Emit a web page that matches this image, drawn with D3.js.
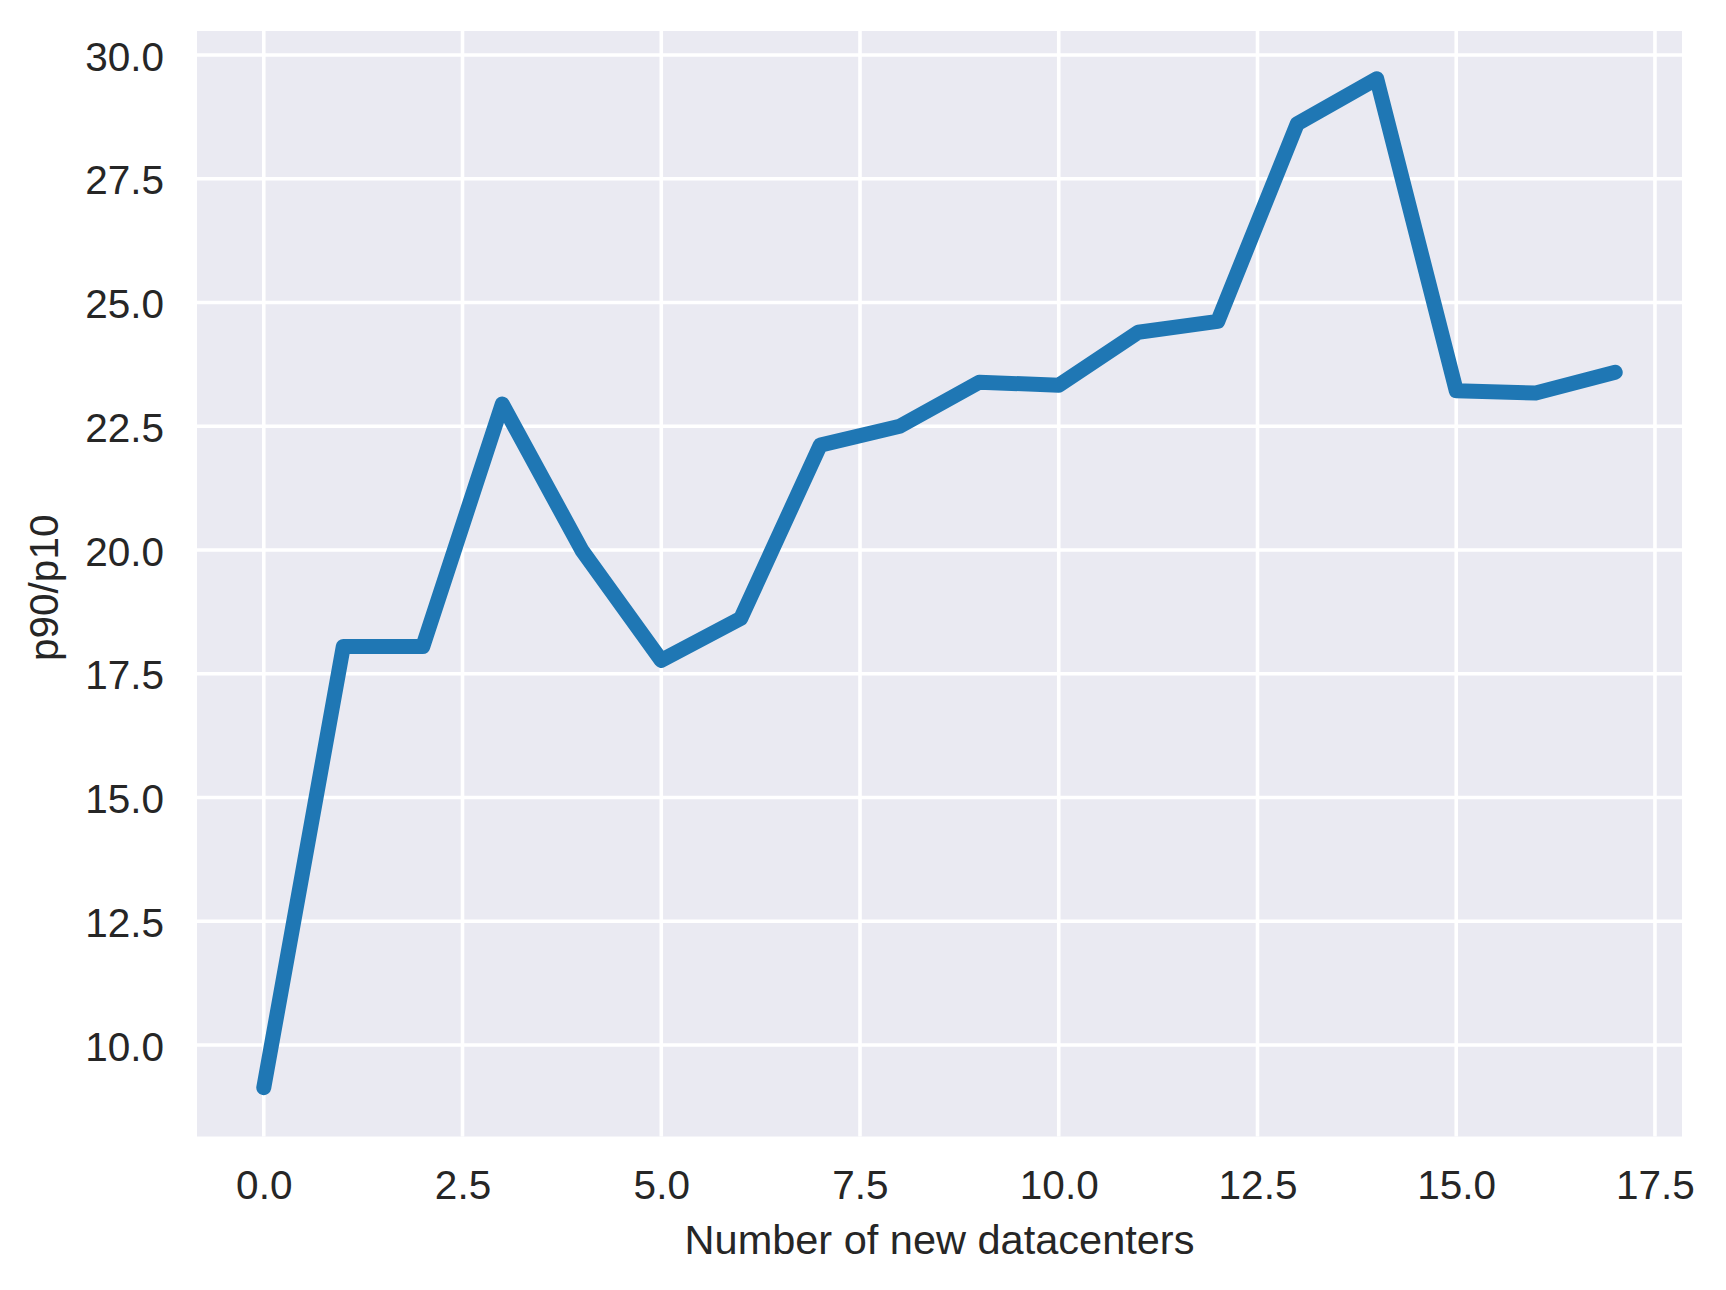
<!DOCTYPE html>
<html>
<head>
<meta charset="utf-8">
<script src="https://cdn.jsdelivr.net/npm/d3@7"></script>
<style>
  html, body { margin: 0; padding: 0; background: #ffffff; }
  svg { display: block; }
  text { font-family: "Liberation Sans", Arial, sans-serif; fill: #262626; }
</style>
</head>
<body>
<svg id="chart" width="1726" height="1290"></svg>
<script>
// ---- data ----
const xValues = [0, 1, 2, 3, 4, 5, 6, 7, 8, 9, 10, 11, 12, 13, 14, 15, 16, 17];
const yValues = [9.14, 18.05, 18.05, 22.95, 20.0, 17.77, 18.62, 22.12, 22.5, 23.39, 23.33, 24.4, 24.62, 28.61, 29.52, 23.22, 23.17, 23.59];
const xTicks = [0.0, 2.5, 5.0, 7.5, 10.0, 12.5, 15.0, 17.5];
const yTicks = [10.0, 12.5, 15.0, 17.5, 20.0, 22.5, 25.0, 27.5, 30.0];
const xLabel = "Number of new datacenters";
const yLabel = "p90/p10";

// ---- layout ----
const W = 1726, H = 1290;
const plot = { left: 197, right: 1682, top: 31, bottom: 1136.5 };

const svg = d3.select("#chart");

const x = d3.scaleLinear().domain([-0.84, 17.84]).range([plot.left, plot.right]);
const y = d3.scaleLinear().domain([8.153, 30.485]).range([plot.bottom, plot.top]);

// background
svg.append("rect")
  .attr("x", plot.left).attr("y", plot.top)
  .attr("width", plot.right - plot.left).attr("height", plot.bottom - plot.top)
  .attr("fill", "#eaeaf2");

// grid
const grid = svg.append("g");
grid.selectAll("line.v").data(xTicks).enter().append("line")
  .attr("x1", d => x(d)).attr("x2", d => x(d))
  .attr("y1", plot.top).attr("y2", plot.bottom)
  .attr("stroke", "#ffffff").attr("stroke-width", 3.6);
grid.selectAll("line.h").data(yTicks).enter().append("line")
  .attr("y1", d => y(d)).attr("y2", d => y(d))
  .attr("x1", plot.left).attr("x2", plot.right)
  .attr("stroke", "#ffffff").attr("stroke-width", 3.6);

// axes (tick labels only)
const xAxis = d3.axisBottom(x).tickValues(xTicks).tickFormat(d3.format(".1f")).tickSize(0).tickPadding(0);
const gx = svg.append("g").attr("transform", `translate(0,${plot.bottom})`).call(xAxis);
gx.select(".domain").remove();
gx.selectAll("text")
  .attr("y", 62.5).attr("dy", null)
  .style("font-size", "40.5px").style("font-family", '"Liberation Sans", Arial, sans-serif')
  .attr("fill", "#262626");

const yAxis = d3.axisLeft(y).tickValues(yTicks).tickFormat(d3.format(".1f")).tickSize(0).tickPadding(0);
const gy = svg.append("g").attr("transform", `translate(${plot.left},0)`).call(yAxis);
gy.select(".domain").remove();
gy.selectAll("text")
  .attr("x", -33).attr("dy", "0.37em")
  .style("font-size", "40.5px").style("font-family", '"Liberation Sans", Arial, sans-serif')
  .attr("fill", "#262626");

// axis labels
svg.append("text")
  .attr("x", (plot.left + plot.right) / 2).attr("y", 1254)
  .attr("text-anchor", "middle")
  .style("font-size", "41.5px")
  .text(xLabel);

svg.append("text")
  .attr("transform", `translate(58,${(plot.top + plot.bottom) / 2 + 4}) rotate(-90)`)
  .attr("text-anchor", "middle")
  .style("font-size", "40.5px")
  .text(yLabel);

// line
const data = xValues.map((d, i) => [d, yValues[i]]);
const line = d3.line().x(d => x(d[0])).y(d => y(d[1]));
svg.append("path")
  .datum(data)
  .attr("d", line)
  .attr("fill", "none")
  .attr("stroke", "#1f77b4")
  .attr("stroke-width", 15)
  .attr("stroke-linecap", "round")
  .attr("stroke-linejoin", "round");
</script>
</body>
</html>
